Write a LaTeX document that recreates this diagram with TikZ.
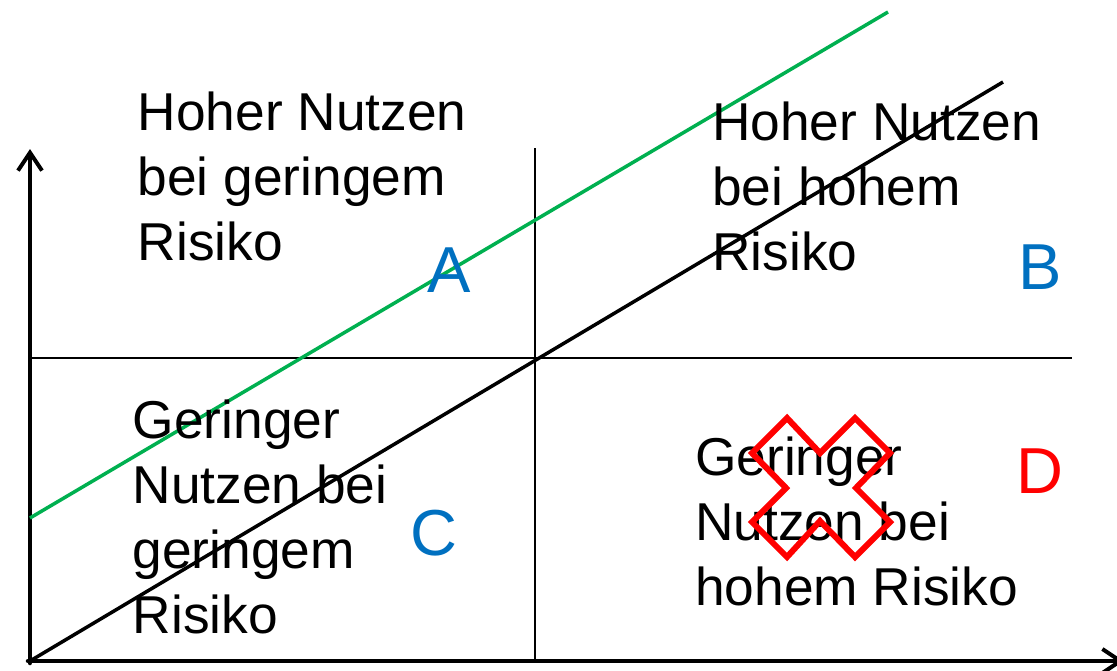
\documentclass[tikz,border=0pt]{standalone}
\usepackage{fontspec}
\setmainfont{Liberation Sans}
\usetikzlibrary{arrows.meta}
\definecolor{lblue}{HTML}{0070C0}
\definecolor{lgreen}{HTML}{00B050}
\definecolor{lred}{HTML}{FF0000}
\begin{document}
\begin{tikzpicture}[x=1pt,y=-1pt,
  axis/.style={line width=4.5pt,line cap=round,-{Straight Barb[length=18pt,width=24pt,line width=4pt]}},
  grid/.style={line width=2pt},
  diag/.style={line width=3.5pt},
  quad/.style={anchor=base west,inner sep=0pt,align=left,font=\fontsize{53.3}{65}\selectfont},
  letter/.style={anchor=base west,inner sep=0pt,font=\fontsize{65}{78}\selectfont}]
\useasboundingbox (0,0) rectangle (1117,670);
% coordinates
\coordinate (O) at (30,661);
\coordinate (Ytip) at (30,149);
\coordinate (Xtip) at (1124,661);
\coordinate (Hl) at (30,358);
\coordinate (Hr) at (1072,358);
\coordinate (Vt) at (535,148);
\coordinate (Vb) at (535,661);
\coordinate (Bend) at (1003,82);
\coordinate (Gs) at (30,518);
\coordinate (Ge) at (888,12);
% grid
\draw[grid] (Hl) -- (Hr);
\draw[grid] (Vt) -- (Vb);
% axes
\draw[axis] (30,663) -- (Ytip);
\draw[axis] (28,661) -- (Xtip);
% diagonals
\draw[diag] (O) -- (Bend);
\draw[diag,lgreen] (Gs) -- (Ge);
% texts (base = baseline of last line)
\node[quad] (tA) at (137.5,260) {Hoher Nutzen\\bei geringem\\Risiko};
\node[quad] (tB) at (712,270) {Hoher Nutzen\\bei hohem\\Risiko};
\node[quad] (tC) at (132.5,633) {Geringer\\Nutzen bei\\geringem\\Risiko};
\node[quad] (tD) at (695,605) {Geringer\\Nutzen bei\\hohem Risiko};
% letters
\node[letter,text=lblue] (lA) at (427,292) {A};
\node[letter,text=lblue] (lB) at (1018,289) {B};
\node[letter,text=lblue] (lC) at (410,555) {C};
\node[letter,text=lred] (lD) at (1016,493) {D};
% red cross
\draw[lred,line width=6pt,line join=miter]
  (787,418) -- (820,453) -- (855,418) -- (890,453) -- (856,488) -- (890,522)
  -- (855,557) -- (820,521) -- (787,557) -- (752,522) -- (786,488) -- (752,453) -- cycle;
\end{tikzpicture}
\end{document}
